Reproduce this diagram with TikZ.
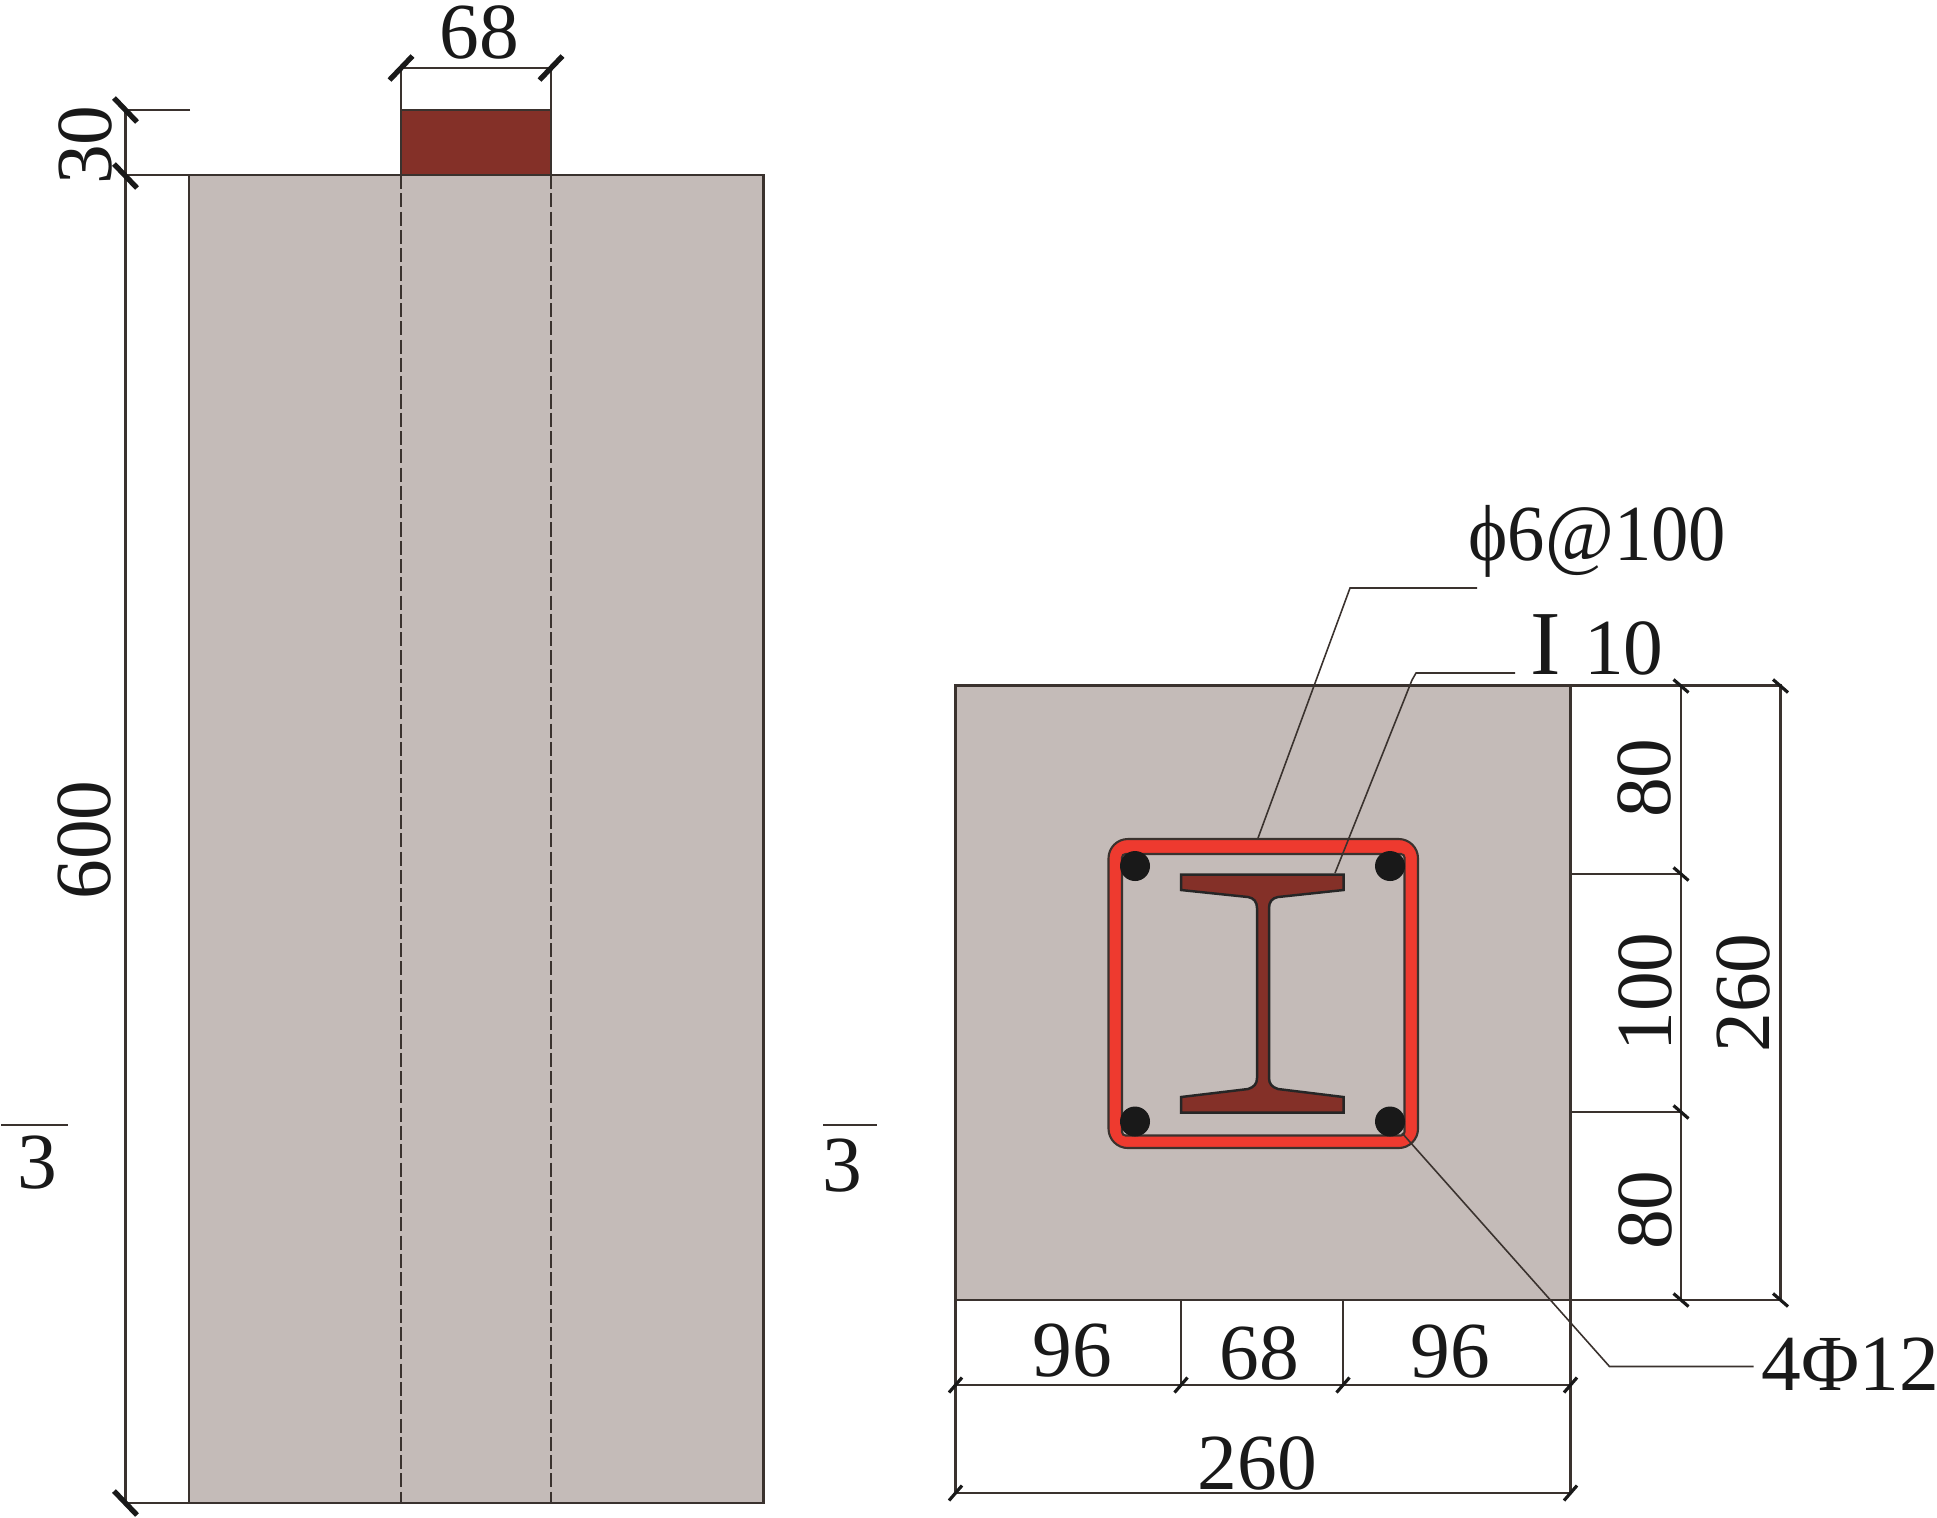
\documentclass[tikz,border=0pt]{standalone}
\usepackage{fontspec}
\setmainfont{Liberation Serif}
\usetikzlibrary{calc}

\definecolor{concrete}{HTML}{C4BBB8}
\definecolor{steel}{HTML}{843028}
\definecolor{stirrup}{HTML}{EE3A2F}
\definecolor{ink}{HTML}{3A322E}

\tikzset{
  dimline/.style={draw=ink,line width=0.6pt},
  thinline/.style={draw=ink,line width=0.45pt},
  bigtick/.style={draw=black!90,line width=1.5pt},
  smalltick/.style={draw=black!90,line width=0.9pt},
  dimtext/.style={inner sep=0pt,font=\fontsize{22.6}{23}\selectfont,text=black!90},
}

\begin{document}
\begin{tikzpicture}[x=0.01cm,y=-0.01cm]
    \useasboundingbox (0,0) rectangle (1937,1517);

    % draw column elevation
    \coordinate (topleft) at (189,175);
    \coordinate (botright) at (763.5,1503);
    \fill[concrete] (topleft) rectangle (botright);
    \draw[dimline] (topleft) rectangle (botright);
    \fill[steel] (401,110) rectangle (551,175);
    \draw[dimline] (401,110) rectangle (551,175);
    \draw[thinline,dash pattern=on 4pt off 1.2pt] (401,175) -- (401,1503);
    \draw[thinline,dash pattern=on 4pt off 1.2pt] (551,175) -- (551,1503);

    % draw elevation dimensions
    \draw[dimline] (401,110) -- (401,68) -- (551,68) -- (551,110);
    \draw[thinline] (190,110) -- (125.5,110);
    \draw[dimline] (125.5,110) -- (125.5,1503) -- (189,1503);
    \draw[dimline] (125.5,175) -- (topleft);
    \foreach \tx in {401,551}
      \draw[bigtick] (\tx,68) ++(-11.5,12) -- ++(23,-24);
    \foreach \ty in {110,176,1503}
      \draw[bigtick] (125.5,\ty) ++(-11.5,-12) -- ++(23,24);
    \node[dimtext] (top68) at (479,32) {68};
    \node[dimtext,rotate=90] (side30) at (85,145) {30};
    \node[dimtext,rotate=90] (side600) at (84,840) {600};

    % draw section marks
    \draw[thinline] (1,1125) -- (68,1125);
    \node[dimtext] (markleft) at (37.5,1163) {3};
    \draw[thinline] (823,1125) -- (877,1125);
    \node[dimtext] (markright) at (842,1166) {3};

    % draw cross section
    \coordinate (secA) at (955.5,685.5);
    \coordinate (secB) at (1570.5,1300);
    \fill[concrete] (secA) rectangle (secB);
    \draw[dimline] (secA) rectangle (secB);

    % draw stirrup
    \draw[draw=ink,line width=0.6pt,fill=stirrup,rounded corners=5.5pt] (1108.5,839) rectangle (1418,1148);
    \draw[draw=ink,line width=0.6pt,fill=concrete,rounded corners=1pt] (1122,854) rectangle (1404.5,1135.5);

    % draw steel section
    \draw[draw=black!85,line width=0.7pt,fill=steel]
      (1181,874.5) -- (1343.5,874.5) -- (1343.5,890) -- (1278,897)
      .. controls (1272,898) and (1269,902) .. (1269,908) -- (1269,1078)
      .. controls (1269,1084) and (1272,1087) .. (1278,1089)
      -- (1343.5,1097) -- (1343.5,1112.5) -- (1181,1112.5) -- (1181,1097) -- (1248,1089)
      .. controls (1254,1087) and (1257,1084) .. (1257,1078) -- (1257,908)
      .. controls (1257,902) and (1254,898) .. (1248,897) -- (1181,890) -- cycle;

    % draw rebars
    \foreach \bx/\by in {1135/866,1390/866,1135/1121.5,1390/1121.5}
      \fill[black!90] (\bx,\by) circle (15);

    % draw section dimensions
    \draw[dimline] (955.5,1300) -- (955.5,1493) -- (1570.5,1493) -- (1570.5,1300);
    \draw[dimline] (955.5,1385) -- (1570.5,1385);
    \draw[dimline] (1181,1300) -- (1181,1385);
    \draw[dimline] (1343,1300) -- (1343,1385);
    \draw[dimline] (1570.5,685.5) -- (1780.5,685.5) -- (1780.5,1300) -- (1570.5,1300);
    \draw[dimline] (1681,685.5) -- (1681,1300);
    \draw[dimline] (1570.5,874) -- (1681,874);
    \draw[dimline] (1570.5,1112) -- (1681,1112);
    \foreach \tx/\ty in {955.5/1385,1181/1385,1343/1385,1570.5/1385,955.5/1493,1570.5/1493}
      \draw[smalltick] (\tx,\ty) ++(-6.5,7.5) -- ++(13,-15);
    \foreach \tx/\ty in {1681/686,1780.5/686,1681/874,1681/1112,1681/1300,1780.5/1300}
      \draw[smalltick] (\tx,\ty) ++(-7.5,-6.5) -- ++(15,13);
    \node[dimtext] (low96a) at (1072,1351) {96};
    \node[dimtext] (low68) at (1259,1353) {68};
    \node[dimtext] (low96b) at (1450,1352) {96};
    \node[dimtext] (low260) at (1257.5,1463) {260};
    \node[dimtext,rotate=90] (right80a) at (1644,778) {80};
    \node[dimtext,rotate=90] (right100) at (1645,992) {100};
    \node[dimtext,rotate=90] (right80b) at (1645,1210) {80};
    \node[dimtext,rotate=90] (right260) at (1743,993) {260};

    % draw leaders
    \node[dimtext,anchor=base west,xscale=0.94] (stirruplabel) at (1468,560) {ϕ6@100};
    \node[dimtext,anchor=base west] (beamlabel) at (1530,674)
      {{\fontsize{26}{26}\selectfont I}\hspace{6.5pt}10};
    \node[dimtext,anchor=base west] (rebarlabel) at (1761,1390) {4Φ12};
    \coordinate (stirrupend) at (1258,838);
    \coordinate (beamend) at (1335,873);
    \coordinate (rebarend) at (1402,1133);
    \draw[thinline] (stirrupend) -- (1350,588) -- (1477,588);
    \draw[thinline] (beamend) -- (1412,680) -- (1416,673) -- (1515,673);
    \draw[thinline] (rebarend) -- (1609.5,1366.5) -- (1753.5,1366.5);
\end{tikzpicture}
\end{document}
